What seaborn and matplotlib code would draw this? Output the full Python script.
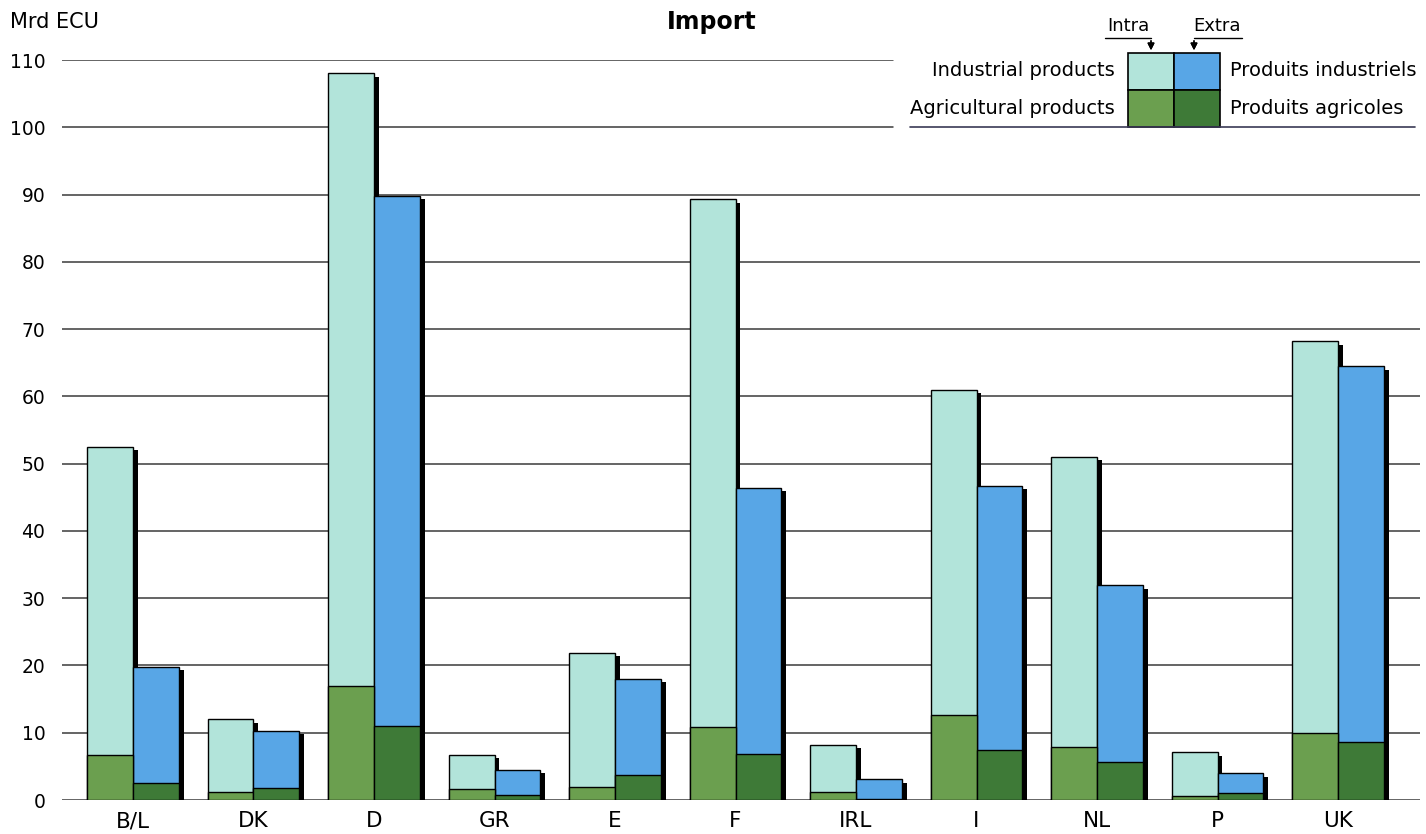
import numpy as np
import pandas as pd
import seaborn as sns
import matplotlib.pyplot as plt
import matplotlib.patheffects as pe
from matplotlib.patches import Rectangle
from matplotlib.lines import Line2D

# Import values, Mrd ECU
countries = ['B/L', 'DK', 'D', 'GR', 'E', 'F', 'IRL', 'I', 'NL', 'P', 'UK']
intra_total = [52.5, 12.0, 108.0, 6.7, 21.9, 89.3, 8.2, 61.0, 51.0, 7.1, 68.2]
extra_total = [19.8, 10.3, 89.8, 4.5, 18.0, 46.4, 3.1, 46.7, 31.9, 4.0, 64.5]
intra_agri = [6.7, 1.2, 17.0, 1.6, 1.9, 10.9, 1.2, 12.6, 7.9, 0.6, 10.0]
extra_agri = [2.5, 1.8, 11.0, 0.7, 3.7, 6.8, 0.2, 7.4, 5.6, 1.0, 8.6]
yticks = [0, 10, 20, 30, 40, 50, 60, 70, 80, 90, 100, 110]

col_ind = {'Intra': '#b2e4da', 'Extra': '#58a6e6'}
col_agr = {'Intra': '#6b9f4f', 'Extra': '#3e7a37'}

df = pd.DataFrame({
    'country': countries * 2,
    'flow': ['Intra'] * len(countries) + ['Extra'] * len(countries),
    'total': intra_total + extra_total,
    'agri': intra_agri + extra_agri,
})

sns.set_style('white')
plt.rcParams['font.family'] = ['DejaVu Sans']
plt.rcParams['text.color'] = 'black'
plt.rcParams['xtick.color'] = 'black'
plt.rcParams['ytick.color'] = 'black'

W, H = 1426, 834
fig = plt.figure(figsize=(W / 100, H / 100), dpi=100)
ax = fig.add_axes([62 / W, 1 - 800 / H, (1420 - 62) / W, (800 - 60) / H])

# industrial (full stack) bars with a drop shadow
sns.barplot(data=df, x='country', y='total', hue='flow', palette=col_ind,
            saturation=1, width=0.76, edgecolor='black', linewidth=1,
            legend=False, ax=ax, zorder=3)
for p in ax.patches:
    p.set_path_effects([pe.withSimplePatchShadow(offset=(3.5, -2.5),
                                                 shadow_rgbFace='black', alpha=1)])
# agricultural part at the bottom
sns.barplot(data=df, x='country', y='agri', hue='flow', palette=col_agr,
            saturation=1, width=0.76, edgecolor='black', linewidth=1,
            legend=False, ax=ax, zorder=4)

ax.set_xlim(-0.589, 10.68)
ax.set_ylim(0, 110)
ax.set_yticks(yticks)
ax.set_yticklabels([str(t) for t in yticks], fontsize=13.5)
ax.tick_params(axis='x', length=0, pad=8, labelsize=15.5)
ax.tick_params(axis='y', length=0, pad=12)
ax.set_xlabel('')
ax.set_ylabel('')
for s in ax.spines.values():
    s.set_visible(False)

# gridlines, the top two stop before the legend
for t in yticks:
    xmax = 0.612 if t >= 100 else 1.0
    ax.axhline(t, xmin=0, xmax=xmax, color='#3a3a3a', lw=1.1, zorder=1)

fig.text(10 / W, 1 - 22 / H, 'Mrd ECU', fontsize=15, va='center', ha='left')
fig.text(712 / W, 1 - 22 / H, 'Import', fontsize=17, fontweight='bold',
         va='center', ha='center')

# legend block
def fx(px):
    return px / W

def fy(py):
    return 1 - py / H

sq = [(1128, 53, col_ind['Intra']), (1174, 53, col_ind['Extra']),
      (1128, 90, col_agr['Intra']), (1174, 90, col_agr['Extra'])]
for x0, y0, c in sq:
    fig.add_artist(Rectangle((fx(x0), fy(y0 + 37)), 46 / W, 37 / H,
                             facecolor=c, edgecolor='black', lw=1.2,
                             transform=fig.transFigure))
fig.add_artist(Line2D([fx(910), fx(1415)], [fy(127), fy(127)],
                      color='#3a3a55', lw=1.2, transform=fig.transFigure))

fig.text(fx(1115), fy(71), 'Industrial products', fontsize=14, ha='right', va='center')
fig.text(fx(1115), fy(108), 'Agricultural products', fontsize=14, ha='right', va='center')
fig.text(fx(1230), fy(71), 'Produits industriels', fontsize=14, ha='left', va='center')
fig.text(fx(1230), fy(108), 'Produits agricoles', fontsize=14, ha='left', va='center')

fig.text(fx(1128), fy(26), 'Intra', fontsize=13, ha='center', va='center')
fig.text(fx(1217), fy(26), 'Extra', fontsize=13, ha='center', va='center')
fig.add_artist(Line2D([fx(1105), fx(1151)], [fy(38), fy(38)], color='black',
                      lw=1, transform=fig.transFigure))
fig.add_artist(Line2D([fx(1194), fx(1242)], [fy(38), fy(38)], color='black',
                      lw=1, transform=fig.transFigure))
for xa in (1151, 1194):
    fig.add_artist(plt.annotate('', xy=(fx(xa), fy(53)), xytext=(fx(xa), fy(38)),
                                xycoords='figure fraction',
                                arrowprops=dict(arrowstyle='-|>', color='black',
                                                lw=1, mutation_scale=10)))

fig.savefig('out.png', dpi=100, facecolor='white')
